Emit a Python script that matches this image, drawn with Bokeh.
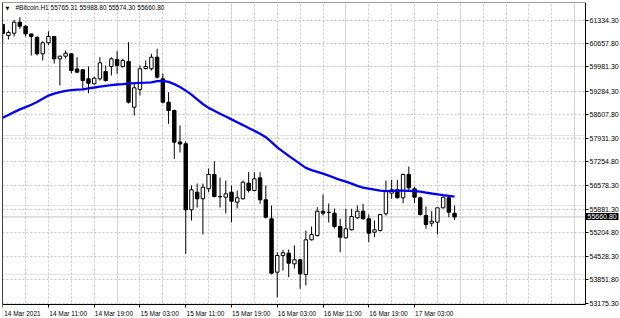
from bokeh.plotting import figure
from bokeh.models import (ColumnDataSource, FixedTicker, LinearAxis, Range1d, Label,
                          Span, Grid, PrintfTickFormatter, BoxAnnotation)
from bokeh.embed import file_html
from bokeh.resources import INLINE

symbol = "#Bitcoin.H1"

opens = [61204.7, 60887.7, 60954.0, 61270.9, 61155.7, 60931.0, 60838.8, 60360.5, 60677.4, 60858.9,
         60216.5, 60291.4, 60360.5, 59922.6, 59899.6, 59640.3, 59496.2, 59640.3, 59850.6, 59994.6,
         60196.3, 59994.6, 60138.7, 58822.1, 59332.0, 59937.0, 59928.4, 60262.6, 59640.3, 58966.1,
         58727.0, 57819.5, 57767.6, 55866.1, 56373.2, 56183.1, 56471.2, 56883.2, 56240.7, 56229.2,
         56373.2, 56085.1, 56183.1, 56632.5, 56422.2, 56788.1, 56154.3, 55606.9, 54068.4, 54549.5,
         54615.8, 54310.4, 54425.7, 54002.2, 55001.9, 55125.7, 55825.8, 55797.0, 55768.2, 55385.0,
         55059.5, 55290.0, 55635.7, 55825.8, 55606.9, 55220.8, 55269.8, 55750.9, 56344.4, 56442.4,
         56211.9, 56883.2, 56471.2, 56211.9, 55701.9, 55480.1, 55508.9, 55923.8, 56211.9, 55765.31]

highs = [61233.5, 61031.8, 61340.1, 61415.0, 61175.8, 60945.4, 60858.9, 60723.5, 61011.6, 60870.0,
         60311.5, 60455.6, 60377.8, 60262.6, 59908.2, 59994.6, 59706.5, 60262.6, 60023.4, 60262.6,
         60435.4, 60225.1, 60694.7, 59496.2, 60023.4, 60167.5, 60360.5, 60504.6, 59784.3, 59254.2,
         58755.8, 58294.8, 57833.9, 56566.2, 56623.9, 56623.9, 57056.0, 57266.3, 56796.7, 56710.3,
         56566.2, 56422.2, 56710.3, 56949.4, 56949.4, 56949.4, 56566.2, 55990.0, 54644.6, 54713.8,
         54722.4, 54837.6, 54454.5, 55269.8, 55385.0, 55941.1, 56307.0, 56047.7, 55903.6, 55606.9,
         55895.0, 55895.0, 55990.0, 56039.0, 55730.8, 55557.9, 55750.9, 56710.3, 56730.4, 56730.4,
         56912.0, 57113.6, 56537.4, 56249.3, 55961.2, 55825.8, 55923.8, 56249.3, 56249.3, 55988.80]

lows = [60686.1, 60772.5, 60858.9, 61080.8, 60858.9, 60311.5, 60311.5, 60167.5, 60619.8, 60081.1,
        59447.2, 60225.1, 59801.6, 59821.8, 59352.2, 59225.4, 59476.1, 59591.3, 59562.5, 59735.3,
        59784.3, 59965.8, 58928.7, 58582.9, 59159.1, 59908.2, 59879.4, 59648.9, 58928.7, 58343.8,
        57335.5, 57517.0, 54598.5, 55557.9, 55932.4, 55154.6, 56373.2, 56220.5, 55932.4, 55759.6,
        55508.9, 55903.6, 56162.9, 56364.6, 56393.4, 56039.0, 55615.5, 54002.2, 53348.2, 54117.4,
        53924.4, 54175.0, 53590.1, 53685.2, 54981.7, 55096.9, 55701.9, 55500.3, 55327.4, 54644.6,
        55039.3, 55269.8, 55615.5, 55586.7, 54932.7, 55076.8, 55241.0, 55701.9, 56183.1, 56191.7,
        56056.3, 56422.2, 56056.3, 55701.9, 55318.8, 55385.0, 55154.6, 55903.6, 55653.0, 55574.30]

closes = [60945.4, 60974.2, 61270.9, 61155.7, 60936.7, 60858.9, 60360.5, 60677.4, 60858.9, 60216.5,
          60291.4, 60377.8, 59879.4, 59830.4, 59591.3, 59513.5, 59657.6, 60101.2, 59591.3, 60216.5,
          60023.4, 60167.5, 58966.1, 59381.0, 59928.4, 59994.6, 60262.6, 59686.4, 58966.1, 58727.0,
          57813.7, 57761.9, 55866.1, 56442.4, 56183.1, 56517.3, 56883.2, 56249.3, 56249.3, 56327.1,
          56113.9, 56211.9, 56661.3, 56422.2, 56759.3, 56154.3, 55653.0, 54039.6, 54549.5, 54627.3,
          54327.7, 54425.7, 54022.3, 55001.9, 55154.6, 55825.8, 55768.2, 55788.4, 55385.0, 55076.8,
          55318.8, 55673.1, 55825.8, 55606.9, 55192.0, 55290.0, 55730.8, 56402.0, 56442.4, 56211.9,
          56883.2, 56500.0, 56229.2, 55730.8, 55442.7, 55537.7, 55923.8, 56229.2, 55797.0, 55660.80]

ma_values = [58516.7, 58597.4, 58680.9, 58758.7, 58825.0, 58891.2, 58971.9, 59064.1, 59156.3, 59213.9,
             59254.2, 59291.7, 59311.8, 59326.2, 59337.8, 59363.7, 59389.6, 59415.6, 59435.7, 59455.9,
             59476.1, 59487.6, 59502.0, 59513.5, 59522.2, 59527.9, 59539.4, 59571.1, 59579.8, 59551.0,
             59487.6, 59404.0, 59300.3, 59185.1, 59046.8, 58914.3, 58801.9, 58718.4, 58634.8, 58554.1,
             58470.6, 58389.9, 58306.4, 58222.8, 58142.2, 58058.6, 57957.8, 57813.7, 57666.8, 57542.9,
             57419.0, 57303.8, 57188.5, 57073.3, 57009.9, 56960.9, 56909.1, 56851.5, 56788.1, 56730.5,
             56675.7, 56621.0, 56554.7, 56505.8, 56477.0, 56448.2, 56419.3, 56404.9, 56410.7, 56419.3,
             56419.3, 56413.6, 56404.9, 56387.6, 56361.7, 56335.8, 56312.7, 56289.7, 56269.5, 56246.4]

time_labels = ["14 Mar 2021", "14 Mar 11:00", "14 Mar 19:00", "15 Mar 03:00", "15 Mar 11:00",
               "15 Mar 19:00", "16 Mar 03:00", "16 Mar 11:00", "16 Mar 19:00", "17 Mar 03:00"]
time_label_bars = [0, 8, 16, 24, 32, 40, 48, 56, 64, 72]

price_ticks = [61334.30, 60657.80, 59981.30, 59284.30, 58607.80, 57931.30, 57254.80,
               56578.30, 55881.30, 55204.80, 54528.30, 53851.80, 53175.30]

FONT = "Liberation Sans"
FS_AXIS = "7px"
FS = "6.5px"

# layout: the frame spans the whole window; the price and time scales are drawn
# at fixed locations inside it, like MT4's chart window.
X_START, X_END = -0.035, 108.01      # bar units
PRICE_X = 101.89                      # where the price scale sits
Y_BOTTOM, Y_TOP = 52734.5, 61838.5    # price units
TIME_Y = 53137.9                      # where the time scale sits
LABEL_SHIFT = 3.45   # MT4 draws time labels starting at their bar, not centred on it

n = len(opens)
idx = list(range(n))
bull = [c >= o for o, c in zip(opens, closes)]
src = ColumnDataSource(dict(
    i=idx, high=highs, low=lows,
    top=[max(o, c) for o, c in zip(opens, closes)],
    bottom=[min(o, c) for o, c in zip(opens, closes)],
    fill=["white" if b else "black" for b in bull],
))

p = figure(width=620, height=318, output_backend="svg", toolbar_location=None,
           x_range=Range1d(X_START, X_END), y_range=Range1d(Y_BOTTOM, Y_TOP),
           min_border_left=2, min_border_right=0, min_border_top=2, min_border_bottom=0,
           x_axis_location=None, y_axis_location=None,
           background_fill_color="white", border_fill_color="white")
p.outline_line_color = None

# grids
p.add_layout(Grid(dimension=0, ticker=FixedTicker(ticks=list(range(0, 101, 4))),
                  grid_line_color="#c4c4c4", grid_line_dash="2 2", grid_line_width=1))
p.add_layout(Grid(dimension=1, ticker=FixedTicker(ticks=price_ticks),
                  grid_line_color="#c4c4c4", grid_line_dash="2 2", grid_line_width=1))

# current price line
last_close = closes[-1]
p.add_layout(Span(location=last_close, dimension="width", line_color="#c0c0c0", line_width=1,
                  level="underlay"))

# blank price-scale and time-scale strips
p.add_layout(BoxAnnotation(left=PRICE_X, fill_color="white", fill_alpha=1.0, line_color=None,
                           level="underlay"))
p.add_layout(BoxAnnotation(top=TIME_Y, fill_color="white", fill_alpha=1.0, line_color=None,
                           level="underlay"))

# frame borders
left_border = LinearAxis(ticker=FixedTicker(ticks=[]), axis_line_color="#404040",
                         bounds=(TIME_Y, Y_TOP),
                         major_tick_out=0, major_tick_in=0, minor_tick_out=0, minor_tick_in=0,
                         major_label_standoff=0, major_label_text_font_size="1px")
p.add_layout(left_border, "left")
top_border = LinearAxis(ticker=FixedTicker(ticks=[]), axis_line_color="#9a9a9a",
                        bounds=(X_START, PRICE_X),
                        major_tick_out=0, major_tick_in=0, minor_tick_out=0, minor_tick_in=0,
                        major_label_standoff=0, major_label_text_font_size="1px")
p.add_layout(top_border, "above")

# candles
p.segment(x0="i", y0="low", x1="i", y1="high", source=src, line_color="black", line_width=1)
p.vbar(x="i", width=0.6, top="top", bottom="bottom", source=src,
       fill_color="fill", line_color="black", line_width=1)

# moving average
p.line(idx, ma_values, line_color="#0000ee", line_width=2.3)

# time scale: tick marks (minor) at the bars, labels shifted so they start at the bar
label_pos = [b + LABEL_SHIFT for b in time_label_bars]
xaxis = LinearAxis(fixed_location=TIME_Y,
                   ticker=FixedTicker(ticks=label_pos, minor_ticks=time_label_bars),
                   major_label_overrides={pos: t for pos, t in zip(label_pos, time_labels)},
                   bounds=(X_START, PRICE_X),
                   axis_line_color="black", axis_line_width=1,
                   major_tick_out=0, major_tick_in=0, minor_tick_out=3, minor_tick_in=0,
                   minor_tick_line_color="black", major_label_standoff=3,
                   major_label_text_font=FONT, major_label_text_font_size=FS,
                   major_label_text_color="black")
p.add_layout(xaxis, "below")

# price scale
yaxis = LinearAxis(fixed_location=PRICE_X, ticker=FixedTicker(ticks=price_ticks),
                   formatter=PrintfTickFormatter(format="%.2f"),
                   bounds=(TIME_Y, Y_TOP),
                   axis_line_color="black", axis_line_width=1,
                   major_tick_out=3, major_tick_in=0, minor_tick_out=0, minor_tick_in=0,
                   major_tick_line_color="black", major_label_standoff=1,
                   major_label_text_font=FONT, major_label_text_font_size=FS_AXIS,
                   major_label_text_color="black")
p.add_layout(yaxis, "right")

# current price tag on the price scale (thick tick used as the black box)
tag_axis = LinearAxis(fixed_location=PRICE_X, ticker=FixedTicker(ticks=[last_close]),
                      formatter=PrintfTickFormatter(format="%.2f"),
                      axis_line_color=None, major_tick_out=33, major_tick_in=0,
                      major_tick_line_width=7, major_tick_line_color="black",
                      minor_tick_out=0, minor_tick_in=0, major_label_standoff=-31,
                      major_label_text_font=FONT, major_label_text_font_size=FS_AXIS,
                      major_label_text_color="white")
p.add_layout(tag_axis, "right")

# header
header = f"{symbol}  {opens[-1]:.2f} {highs[-1]:.2f} {lows[-1]:.2f} {closes[-1]:.2f}"
p.add_layout(Label(x=3, y=311, x_units="screen", y_units="screen", text="\u25BC",
                   text_font="DejaVu Sans", text_font_size="5px", text_baseline="middle",
                   text_color="black"))
p.add_layout(Label(x=13, y=311, x_units="screen", y_units="screen", text=header,
                   text_font=FONT, text_font_size=FS, text_baseline="middle", text_color="black"))

open("out.html", "w").write(file_html(p, INLINE))
